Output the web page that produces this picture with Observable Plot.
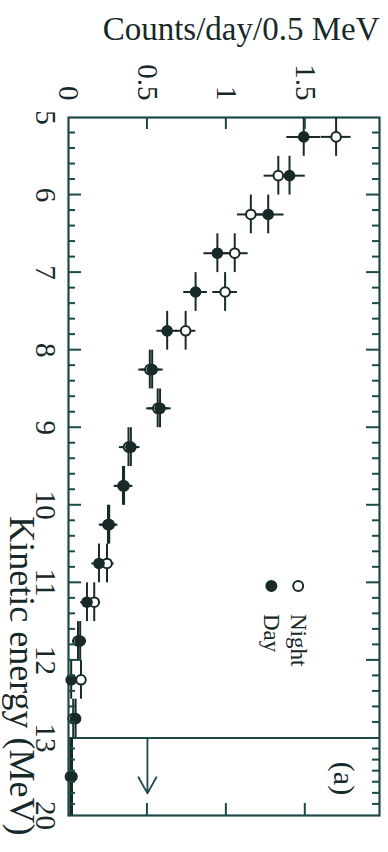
<!DOCTYPE html>
<html>
<head>
<meta charset="utf-8">
<script src="https://cdn.jsdelivr.net/npm/d3@7"></script>
<script src="https://cdn.jsdelivr.net/npm/@observablehq/plot@0.6"></script>
<style>
  html, body { margin: 0; padding: 0; background: #ffffff; overflow: hidden; }
  #chart svg { display: block; }
</style>
</head>
<body>
<div id="chart"></div>
<script>
// ---- data ----
const energy      = [5.25, 5.75, 6.25, 6.75, 7.25, 7.75, 8.25, 8.75, 9.25, 9.75, 10.25, 10.75, 11.25, 11.75, 12.25, 12.75, 16.5];
const binLo       = [5.0, 5.5, 6.0, 6.5, 7.0, 7.5, 8.0, 8.5, 9.0, 9.5, 10.0, 10.5, 11.0, 11.5, 12.0, 12.5, 13.0];
const binHi       = [5.5, 6.0, 6.5, 7.0, 7.5, 8.0, 8.5, 9.0, 9.5, 10.0, 10.5, 11.0, 11.5, 12.0, 12.5, 13.0, 20.0];
const dayCounts   = [1.49, 1.40, 1.265, 0.943, 0.805, 0.625, 0.53, 0.58, 0.395, 0.352, 0.258, 0.193, 0.117, 0.074, 0.017, 0.045, 0.022];
const dayErr      = [0.107, 0.10, 0.10, 0.085, 0.075, 0.065, 0.07, 0.07, 0.058, 0.056, 0.055, 0.045, 0.04, 0.04, 0.03, 0.03, 0.012];
const nightCounts = [1.695, 1.329, 1.155, 1.053, 0.992, 0.742, 0.515, 0.565, 0.38, 0.345, 0.25, 0.244, 0.163, 0.06, 0.079, 0.03, 0.012];
const nightErr    = [0.095, 0.09, 0.085, 0.085, 0.078, 0.065, 0.07, 0.07, 0.058, 0.056, 0.055, 0.045, 0.04, 0.035, 0.03, 0.03, 0.01];

const countTicks   = [0, 0.5, 1, 1.5];
const energyTicks  = [5, 6, 7, 8, 9, 10, 11, 12, 13, 20];
const energyMajor  = [6, 7, 8, 9, 10, 11, 12];
const energyMinor  = [5.2, 5.4, 5.6, 5.8, 6.2, 6.4, 6.6, 6.8, 7.2, 7.4, 7.6, 7.8, 8.2, 8.4, 8.6, 8.8,
                      9.2, 9.4, 9.6, 9.8, 10.2, 10.4, 10.6, 10.8, 11.2, 11.4, 11.6, 11.8, 12.2, 12.4, 12.6, 12.8,
                      14, 15, 16, 17, 18, 19];
const splitEnergy  = [13];
const limitCount   = [0.5];   // arrow (upper-limit marker) in the 13–20 MeV bin
const limitFrom    = 13, limitTo = 18;
const legendLabels = ["Night", "Day"];
const legendCount  = [1.455, 1.285];
const legendEnergy = 11.04;

// broken energy axis: 5–13 MeV linear, the 13–20 MeV bin squeezed into one unit
const ey = e => e <= 13 ? e : 13 + (e - 13) / 7;

// ---- style / layout ----
const ink  = "#172a29";
const edge = "#1d4a46";
const font = "'Liberation Serif', 'Times New Roman', serif";
const W = 388, H = 852;
const mL = 68, mR = 9, mT = 117, mB = 37;
const xMax = 1.97, yMin = 5, yMax = ey(20);

const rows = energy.flatMap((e, i) => [
  {series: "Night", e, lo: binLo[i], hi: binHi[i], v: nightCounts[i], err: nightErr[i]},
  {series: "Day",   e, lo: binLo[i], hi: binHi[i], v: dayCounts[i],   err: dayErr[i]}
]);
const nightRows = rows.filter(d => d.series === "Night");
const dayRows   = rows.filter(d => d.series === "Day");

const chart = Plot.plot({
  width: W, height: H,
  marginLeft: mL, marginRight: mR, marginTop: mT, marginBottom: mB,
  style: {fontFamily: font, background: "#ffffff", color: ink},
  x: {domain: [0, xMax], axis: null},
  y: {domain: [yMin, yMax], reverse: true, axis: null},
  marks: [
    Plot.ruleY(splitEnergy, {y: ey, stroke: edge, strokeWidth: 2}),
    Plot.frame({stroke: edge, strokeWidth: 2.2}),
    // error bars
    Plot.ruleX(rows, {x: "v", y1: d => ey(d.lo), y2: d => ey(d.hi), stroke: ink, strokeWidth: 2}),
    Plot.ruleY(rows, {y: d => ey(d.e), x1: d => d.v - d.err, x2: d => d.v + d.err, stroke: ink, strokeWidth: 2}),
    // points
    Plot.dot(nightRows, {x: "v", y: d => ey(d.e), r: 4.8, fill: "#ffffff", stroke: ink, strokeWidth: 2}),
    Plot.dot(dayRows, {x: "v", y: d => ey(d.e), r: 5.8, fill: ink}),
    // upper limit arrow
    Plot.arrow(limitCount, {x1: d => d, x2: d => d, y1: ey(limitFrom), y2: ey(limitTo), stroke: edge, strokeWidth: 1.8, headLength: 23, headAngle: 58}),
    // legend
    Plot.dot(legendLabels, {x: (d, i) => legendCount[i], y: legendEnergy, r: 5, fill: (d, i) => i === 0 ? "#ffffff" : ink, stroke: ink, strokeWidth: 2}),
    Plot.text(legendLabels, {x: (d, i) => legendCount[i], y: legendEnergy, text: d => d, rotate: 90, textAnchor: "start", lineAnchor: "middle", dy: 28, fontSize: 23, fill: ink}),
    Plot.text(["(a)"], {frameAnchor: "bottom-right", dx: -36, dy: -37, rotate: 90, textAnchor: "middle", lineAnchor: "middle", fontSize: 30, fill: ink}),
    // axes labels
    Plot.axisX(countTicks, {anchor: "top", tickSize: 0, tickRotate: 90, tickPadding: 17, textAnchor: "end", lineAnchor: "middle", fontSize: 29, fill: ink, label: null, tickFormat: d => String(d)}),
    Plot.axisY(energyTicks, {y: ey, text: d => String(d), anchor: "left", tickSize: 0, tickRotate: 90, tickPadding: 12, textAnchor: "middle", lineAnchor: "top", fontSize: 29, fill: ink, label: null}),
    Plot.text(["Counts/day/0.5 MeV"], {frameAnchor: "top-right", textAnchor: "end", lineAnchor: "middle", dy: -88, fontSize: 33, fill: ink}),
    Plot.text(["Kinetic energy (MeV)"], {frameAnchor: "bottom-left", rotate: 90, textAnchor: "end", lineAnchor: "middle", dx: -47, dy: 20, fontSize: 36, fill: ink})
  ]
});
document.getElementById("chart").appendChild(chart);

// inward frame ticks, placed with the chart's own scales
const sx = chart.scale("x"), sy = chart.scale("y");
const xL = sx.apply(0), xR = sx.apply(xMax), yT = sy.apply(yMin), yB = sy.apply(yMax);
const tickSegs = [
  ...energyMajor.map(e => [xL, sy.apply(ey(e)), xL + 13, sy.apply(ey(e))]),
  ...energyMajor.map(e => [xR, sy.apply(ey(e)), xR - 13, sy.apply(ey(e))]),
  ...energyMinor.map(e => [xL, sy.apply(ey(e)), xL + 7, sy.apply(ey(e))]),
  ...energyMinor.map(e => [xR, sy.apply(ey(e)), xR - 7, sy.apply(ey(e))]),
  ...countTicks.filter(c => c > 0).map(c => [sx.apply(c), yT, sx.apply(c), yT + 12]),
  ...countTicks.filter(c => c > 0).map(c => [sx.apply(c), yB, sx.apply(c), yB - 12])
];
d3.select(chart).append("g")
  .attr("stroke", edge)
  .attr("stroke-width", 2)
  .selectAll("line")
  .data(tickSegs)
  .join("line")
  .attr("x1", d => d[0]).attr("y1", d => d[1])
  .attr("x2", d => d[2]).attr("y2", d => d[3]);
</script>
</body>
</html>
